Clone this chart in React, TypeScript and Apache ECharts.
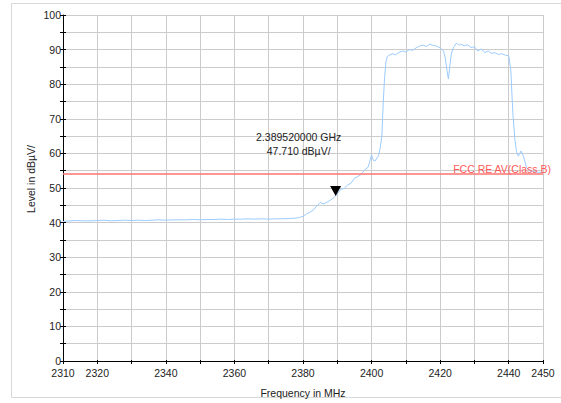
import React, { useEffect, useRef } from "react";
import * as echarts from "echarts";

const freqMHz: number[] = [
  2310, 2312, 2314, 2316, 2318, 2320, 2322, 2324, 2326, 2328, 2330, 2332, 2334, 2336, 2338,
  2340, 2342, 2344, 2346, 2348, 2350, 2352, 2354, 2356, 2358, 2360, 2362, 2364, 2366, 2368,
  2370, 2372, 2374, 2376, 2378, 2379, 2380, 2381, 2382, 2383, 2384, 2385, 2386, 2387, 2388,
  2389, 2389.52, 2390, 2391, 2392, 2393, 2394, 2395, 2396, 2397, 2398, 2399, 2400, 2400.5,
  2401, 2402, 2402.5, 2403, 2403.4, 2403.8, 2404.2, 2404.6, 2405, 2406, 2407, 2408, 2409,
  2410, 2411, 2412, 2413, 2414, 2415, 2416, 2417, 2418, 2419, 2420, 2421, 2421.5, 2422,
  2422.4, 2422.8, 2423.3, 2424, 2424.8, 2425.5, 2426, 2427, 2428, 2429, 2430, 2431, 2432,
  2433, 2434, 2435, 2436, 2437, 2438, 2439, 2440, 2440.6, 2441.2, 2441.8, 2442.3, 2442.8,
  2443.6, 2444.3, 2445.2, 2446.2, 2447.2, 2448.2, 2449.6,
];
const levelDb: number[] = [
  40.3, 40.5, 40.6, 40.5, 40.5, 40.6, 40.7, 40.5, 40.6, 40.7, 40.6, 40.7, 40.6, 40.7, 40.8,
  40.7, 40.8, 40.8, 40.8, 40.9, 40.8, 40.9, 40.9, 41.0, 40.9, 41.0, 41.0, 41.1, 41.0, 41.1,
  41.0, 41.1, 41.1, 41.2, 41.3, 41.5, 41.8, 42.5, 43.0, 43.6, 44.8, 45.8, 45.4, 45.9, 46.5,
  47.2, 47.71, 48.3, 49.6, 49.9, 50.8, 51.4, 52.8, 53.3, 54.0, 55.3, 56.0, 59.6, 58.0,
  57.8, 59.3, 61.5, 65.0, 74.6, 82.0, 86.5, 88.0, 88.3, 88.8, 88.5, 89.2, 89.6,
  89.3, 90.0, 89.8, 90.5, 91.0, 91.3, 90.9, 91.6, 91.2, 91.0, 90.5, 89.6, 87.5, 84.0,
  81.5, 85.0, 89.0, 90.8, 91.9, 91.2, 91.6, 91.1, 91.4, 90.6, 90.8, 89.6, 90.2,
  89.1, 89.6, 88.9, 89.1, 88.6, 88.8, 88.4, 88.2, 84.2, 71.7, 64.0, 60.5, 59.2,
  60.7, 59.2, 55.9, 54.9, 54.8, 54.6, 54.5,
];
const limitValue = 54;
const limitName = "FCC RE AV(Class B)";
const markerFreq = 2389.52;
const markerLevel = 47.71;
const markerLines = ["2.389520000 GHz", "47.710 dBµV/"];
const xMin = 2310;
const xMax = 2450;
const yMin = 0;
const yMax = 100;

const FONT = "'Liberation Sans', Arial, sans-serif";

export default function App() {
  const ref = useRef<HTMLDivElement>(null);
  useEffect(() => {
    if (!ref.current) return;
    const chart = echarts.init(ref.current, null, { renderer: "svg" });
    const gridLeft = 63, gridRight = 18, gridTop = 15, gridBottom = 40;
    const plotW = 561 - gridLeft - gridRight;
    const plotH = 403 - gridTop - gridBottom;
    const lineColor = "#000";
    const gridColor = "#cccccc";
    chart.setOption({
      animation: false,
      textStyle: { fontFamily: FONT },
      grid: { left: gridLeft, right: gridRight, top: gridTop, bottom: gridBottom },
      xAxis: [
        {
          type: "value",
          min: xMin,
          max: xMax,
          interval: 10,
          name: "Frequency in MHz",
          nameLocation: "middle",
          nameGap: 26,
          nameTextStyle: { fontSize: 10.5, color: "#222", fontFamily: FONT },
          axisLine: { lineStyle: { color: lineColor, width: 1 } },
          axisTick: { show: true, length: 3, lineStyle: { color: lineColor } },
          axisLabel: {
            fontSize: 10.5,
            color: "#222",
            margin: 6,
            fontFamily: FONT,
            showMinLabel: true,
            showMaxLabel: true,
            formatter: (v: number) =>
              v === xMin || v === xMax || v % 20 === 0 ? String(v) : "",
          },
          splitLine: { show: true, lineStyle: { color: gridColor, width: 1 } },
        },
        {
          type: "value",
          position: "top",
          offset: -plotH,
          min: xMin,
          max: xMax,
          interval: 10,
          axisLine: { show: false },
          axisTick: { show: true, length: 3, lineStyle: { color: lineColor } },
          axisLabel: { show: false },
          splitLine: { show: false },
        },
      ],
      yAxis: [
        {
          type: "value",
          min: yMin,
          max: yMax,
          interval: 5,
          axisLine: { show: true, lineStyle: { color: lineColor, width: 1 } },
          axisTick: { show: true, length: 3, lineStyle: { color: lineColor } },
          axisLabel: {
            fontSize: 10.5,
            color: "#222",
            margin: 2,
            fontFamily: FONT,
            formatter: (v: number) => (v % 10 === 0 ? String(v) : ""),
          },
          splitLine: { show: true, lineStyle: { color: gridColor, width: 1 } },
        },
        {
          type: "value",
          position: "right",
          offset: -plotW,
          min: yMin,
          max: yMax,
          interval: 5,
          axisLine: { show: false },
          axisTick: { show: true, length: 3, lineStyle: { color: lineColor } },
          axisLabel: { show: false },
          splitLine: { show: false },
        },
      ],
      graphic: [
        {
          type: "rect",
          silent: true,
          z: -10,
          shape: { x: 11.5, y: 3.5, width: 560, height: 394 },
          style: { fill: "none", stroke: "#d8d8d8", lineWidth: 1 },
        },
        {
          type: "text",
          x: 31,
          y: 179,
          rotation: Math.PI / 2,
          style: {
            text: "Level in dBµV/",
            fontSize: 10.5,
            fontFamily: FONT,
            fill: "#222",
            textAlign: "center",
            textVerticalAlign: "middle",
          },
        },
        {
          type: "text",
          x: 551,
          y: 169,
          z: 10,
          style: {
            text: limitName,
            fontSize: 10.5,
            fontFamily: FONT,
            fill: "#ff5a5a",
            textAlign: "right",
            textVerticalAlign: "middle",
          },
        },
      ],
      series: [
        {
          type: "line",
          xAxisIndex: 0,
          yAxisIndex: 0,
          data: freqMHz.map((f, i) => [f, levelDb[i]]),
          showSymbol: false,
          symbol: "none",
          lineStyle: { color: "#9ccbff", width: 1 },
          z: 3,
          markLine: {
            silent: true,
            symbol: "none",
            label: { show: false },
            lineStyle: { color: "#ff7373", width: 1.5, type: "solid" },
            data: [{ yAxis: limitValue }],
          },
          markPoint: {
            silent: true,
            data: [
              {
                coord: [markerFreq, markerLevel],
                symbol: "triangle",
                symbolRotate: 180,
                symbolSize: [11, 10],
                symbolOffset: [0, -5],
                itemStyle: { color: "#000" },
                label: {
                  show: true,
                  position: "top",
                  distance: 28,
                  offset: [-37, 0],
                  formatter: markerLines.join("\n"),
                  color: "#222",
                  fontSize: 10.5,
                  lineHeight: 14,
                  fontFamily: FONT,
                  align: "center",
                },
              },
            ],
          },
        },
      ],
    });
    return () => chart.dispose();
  }, []);
  return (
    <div
      ref={ref}
      style={{ position: "fixed", left: 0, top: 0, width: 561, height: 403, background: "#fff" }}
    />
  );
}
